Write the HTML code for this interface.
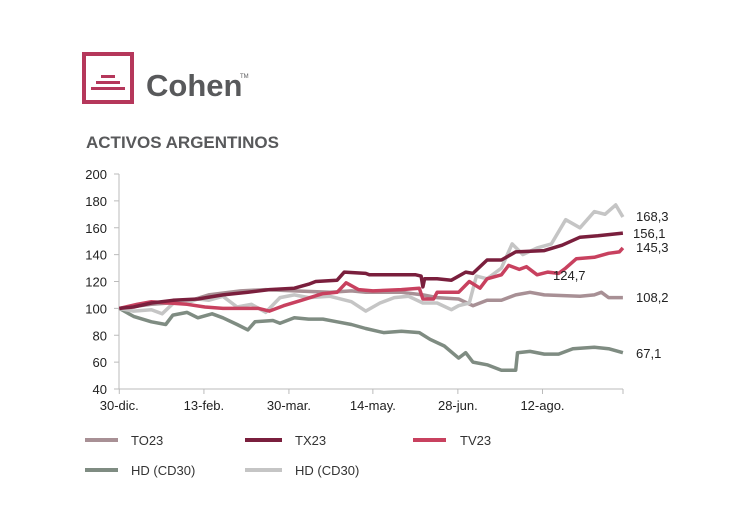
<!DOCTYPE html><html><head><meta charset="utf-8"><style>
body{margin:0;background:#fff;width:730px;height:526px;overflow:hidden;font-family:"Liberation Sans",sans-serif}
</style></head><body>
<svg width="730" height="526" xmlns="http://www.w3.org/2000/svg" font-family="Liberation Sans, sans-serif">
<rect x="84" y="54" width="48" height="48" fill="none" stroke="#b5375b" stroke-width="4"/>
<rect x="101" y="75" width="14" height="3" fill="#b5375b"/>
<rect x="96" y="81" width="24" height="3" fill="#b5375b"/>
<rect x="91" y="87" width="34" height="3" fill="#b5375b"/>
<text x="146" y="96" font-size="31" font-weight="bold" fill="#58595b">Cohen</text>
<text x="240" y="78" font-size="6" fill="#58595b">TM</text>
<text x="86" y="148" font-size="17" font-weight="bold" fill="#58595b">ACTIVOS ARGENTINOS</text>
<g font-size="13" fill="#222" text-anchor="end" id="yl"></g>
<g id="ax" stroke="#bbb" stroke-width="1"></g>
<g font-size="13" fill="#222" text-anchor="middle" id="xl"></g>
<g id="series" fill="none" stroke-width="3.5" stroke-linejoin="round"></g>
<g font-size="13" fill="#222">
<text x="636" y="221">168,3</text><text x="633" y="238">156,1</text><text x="636" y="252">145,3</text>
<text x="553" y="280">124,7</text><text x="636" y="302">108,2</text><text x="636" y="358">67,1</text>
</g>
<g stroke-width="4">
<line x1="85" y1="440" x2="118" y2="440" stroke="#a89095"/>
<line x1="245" y1="440" x2="282" y2="440" stroke="#7a1f3d"/>
<line x1="413" y1="440" x2="446" y2="440" stroke="#c8415f"/>
<line x1="85" y1="470" x2="118" y2="470" stroke="#7f8c82"/>
<line x1="245" y1="470" x2="282" y2="470" stroke="#c5c5c5"/>
</g>
<g font-size="13" fill="#333">
<text x="131" y="445">TO23</text><text x="295" y="445">TX23</text><text x="460" y="445">TV23</text>
<text x="131" y="475">HD (CD30)</text><text x="295" y="475">HD (CD30)</text>
</g>
</svg>
<script>
const NS="http://www.w3.org/2000/svg";
const Y=v=>389-(v-40)*215/160, X=zx=>80+zx/2.8;
const yl=document.getElementById('yl'),ax=document.getElementById('ax'),xl=document.getElementById('xl');
function el(p,t,a,txt){const e=document.createElementNS(NS,t);for(const k in a)e.setAttribute(k,a[k]);if(txt)e.textContent=txt;p.appendChild(e);}
for(let v=40;v<=200;v+=20){el(yl,'text',{x:107,y:Y(v)+5},String(v));el(ax,'line',{x1:114,x2:119,y1:Y(v),y2:Y(v)});}
el(ax,'line',{x1:119,x2:119,y1:Y(200),y2:389});el(ax,'line',{x1:119,x2:623,y1:389,y2:389});
const tk=[[110,'30-dic.'],[347,'13-feb.'],[585,'30-mar.'],[820,'14-may.'],[1058,'28-jun.'],[1295,'12-ago.']];
tk.forEach(([z,t])=>{el(ax,'line',{x1:X(z),x2:X(z),y1:389,y2:394});el(xl,'text',{x:X(z),y:410},t);});
el(ax,'line',{x1:623,x2:623,y1:389,y2:394});
const S=[
["#a89095",[[110,100],[200,103],[300,105],[360,110],[450,113],[520,114],[600,113],[700,112],[760,113],[800,112],[900,112],[960,110],[1000,108],[1060,107],[1100,102],[1140,106],[1180,106],[1220,110],[1260,112],[1300,110],[1400,109],[1440,110],[1460,112],[1480,108],[1520,108]]],
["#7f8c82",[[110,100],[150,94],[200,90],[240,88],[260,95],[300,97],[330,93],[370,96],[400,93],[440,88],[470,84],[490,90],[540,91],[560,89],[600,93],[640,92],[680,92],[720,90],[760,88],[800,85],[850,82],[900,83],[950,82],[980,77],[1020,72],[1060,63],[1080,67],[1100,60],[1140,58],[1180,54],[1220,54],[1225,67],[1260,68],[1300,66],[1340,66],[1380,70],[1440,71],[1480,70],[1520,67]]],
["#c5c5c5",[[110,100],[150,98],[200,99],[230,96],[270,106],[300,104],[330,107],[360,106],[400,109],[440,101],[480,103],[520,97],[560,108],[600,110],[640,108],[700,109],[760,105],[800,98],[840,104],[880,108],[920,109],[960,104],[1000,104],[1040,99],[1060,102],[1090,104],[1110,124],[1140,122],[1180,130],[1210,148],[1240,140],[1280,145],[1320,148],[1360,166],[1400,160],[1440,172],[1470,170],[1500,177],[1520,168]]],
["#c8415f",[[110,100],[160,103],[200,105],[300,103],[350,101],[400,100],[500,100],[530,98],[570,102],[620,106],[680,111],[720,112],[745,119],[780,114],[820,113],[900,114],[950,115],[960,107],[990,107],[1000,112],[1060,112],[1090,120],[1120,115],[1140,122],[1180,125],[1200,132],[1230,129],[1250,131],[1280,125],[1310,127],[1340,126],[1360,130],[1390,137],[1440,138],[1480,141],[1510,142],[1520,145]]],
["#7a1f3d",[[110,100],[150,101],[200,104],[260,106],[330,107],[400,110],[470,112],[530,114],[600,115],[640,118],[660,120],[720,121],[740,127],[800,126],[810,125],[940,125],[955,124],[960,116],[965,122],[1000,122],[1040,121],[1080,127],[1100,126],[1140,136],[1180,136],[1220,142],[1300,143],[1350,147],[1400,153],[1450,154],[1520,156]]]];
const g=document.getElementById('series');
S.forEach(([c,p])=>el(g,'polyline',{stroke:c,points:p.map(([a,b])=>X(a).toFixed(1)+','+Y(b).toFixed(1)).join(' ')}));
</script>
</body></html>
